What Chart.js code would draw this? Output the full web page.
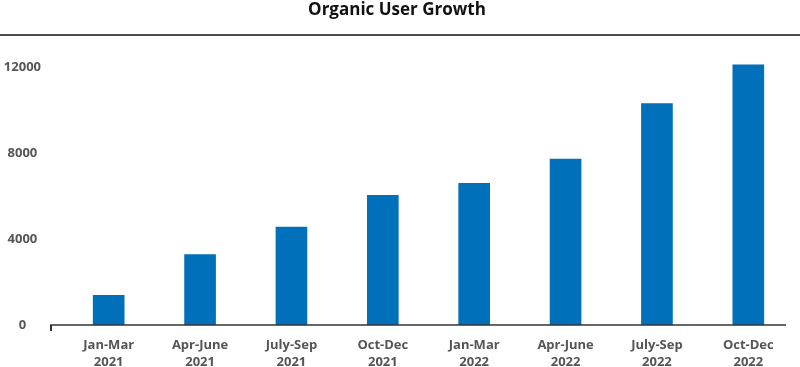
<!DOCTYPE html>
<html>
<head>
<meta charset="utf-8">
<script src="https://cdn.jsdelivr.net/npm/chart.js@4"></script>
<style>
  html, body { margin:0; padding:0; background:#fff; }
  #wrap { width:800px; height:367px; }
</style>
</head>
<body>
<div id="wrap"><canvas id="growth"></canvas></div>
<script>
// quarters, two-line labels
const quarters = [
  ['Jan-Mar', '2021'], ['Apr-June', '2021'], ['July-Sep', '2021'], ['Oct-Dec', '2021'],
  ['Jan-Mar', '2022'], ['Apr-June', '2022'], ['July-Sep', '2022'], ['Oct-Dec', '2022']
];
const users = [1380, 3270, 4550, 6030, 6590, 7710, 10300, 12100];
const yTicks = [0, 4000, 8000, 12000];

const BAR = '#0070BA';
const TEXT = '#555555';

// black rule under the title + the x baseline with its small left tick
const rules = {
  id: 'rules',
  afterDraw(chart){
    const ctx = chart.ctx, a = chart.chartArea;
    ctx.save();
    ctx.strokeStyle = '#111';
    ctx.lineWidth = 1.5;
    ctx.beginPath();
    ctx.moveTo(0, a.top - 10.5); ctx.lineTo(chart.width, a.top - 10.5);
    ctx.stroke();
    ctx.strokeStyle = '#333';
    ctx.lineWidth = 1.5;
    const y0 = chart.scales.y.getPixelForValue(0);
    ctx.beginPath();
    ctx.moveTo(a.left - 13, y0); ctx.lineTo(a.right - 8, y0);
    ctx.stroke();
    ctx.lineWidth = 2;
    ctx.beginPath();
    ctx.moveTo(a.left - 12, y0); ctx.lineTo(a.left - 12, y0 + 6);
    ctx.stroke();
    ctx.restore();
  }
};

new Chart(document.getElementById('growth'), {
  type: 'bar',
  data: {
    labels: quarters,
    datasets: [{ label: 'Organic Users', data: users, backgroundColor: BAR, barThickness: 31 }]
  },
  plugins: [rules],
  options: {
    responsive: true, maintainAspectRatio: false, animation: false,
    layout: { padding: { top: 0, right: 6, bottom: 0, left: 0 } },
    plugins: {
      legend: { display: false },
      tooltip: { enabled: false },
      title: {
        display: true, text: 'Organic User Growth', color: '#111',
        font: { family: 'Open Sans', size: 17, weight: 'bold' },
        padding: { top: 0, bottom: 25 }
      }
    },
    scales: {
      x: {
        grid: { display: false }, border: { display: false },
        ticks: { color: TEXT, font: { family: 'Open Sans', size: 13, weight: 'bold', lineHeight: 1.3 }, padding: 4, maxRotation: 0 },
        afterFit(s){ s.height = 42; }
      },
      y: {
        min: 0, max: 13000,
        grid: { display: false, drawTicks: false }, border: { display: false },
        afterBuildTicks(s){ s.ticks = yTicks.map(v => ({ value: v })); },
        ticks: { color: TEXT, font: { family: 'Open Sans', size: 13, weight: 'bold' }, padding: 22, crossAlign: 'center',
                 callback: v => String(v) },
        afterFit(s){ s.width = 63; }
      }
    }
  }
});
</script>
</body>
</html>
